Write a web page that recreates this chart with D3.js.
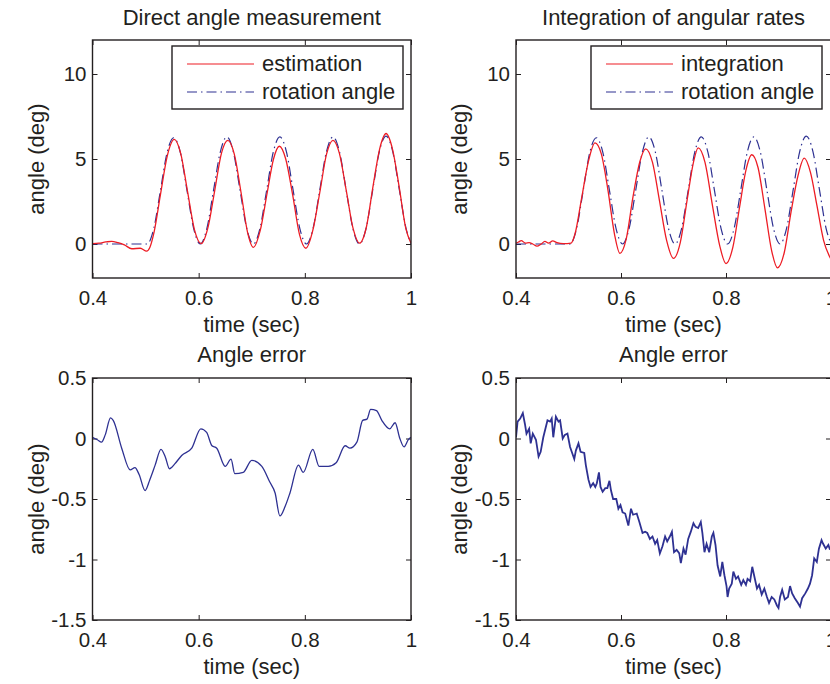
<!DOCTYPE html>
<html>
<head>
<meta charset="utf-8">
<script src="https://cdn.jsdelivr.net/npm/d3@7"></script>
<style>
  body { margin: 0; background: #fff; }
  svg { display: block; }
  text { font-family: "Liberation Sans", Arial, sans-serif; fill: #231f20; }
</style>
</head>
<body>
<div id="chart"></div>
<script>
// ---- data ----
const xTicks = [0.4, 0.6, 0.8, 1]
const xTickLabels = ['0.4', '0.6', '0.8', '1']
const angleTicks = [0, 5, 10]
const angleTickLabels = ['0', '5', '10']
const errorTicks = [-1.5, -1, -0.5, 0, 0.5]
const errorTickLabels = ['-1.5', '-1', '-0.5', '0', '0.5']

// rotation angle (reference, dash-dot), same in both top plots
const rotationTime = [0.400, 0.450, 0.490, 0.503, 0.5155, 0.528, 0.5405, 0.553, 0.5655, 0.578, 0.5905, 0.603,
  0.6155, 0.628, 0.6405, 0.653, 0.6655, 0.678, 0.6905, 0.703, 0.7155, 0.728, 0.7405, 0.753, 0.7655, 0.778, 0.7905, 0.803,
  0.8155, 0.828, 0.8405, 0.853, 0.8655, 0.878, 0.8905, 0.903, 0.9155, 0.928, 0.9405, 0.953, 0.9655, 0.978, 0.9905, 1.000]
const rotationAngle = [0, 0, 0, 0, 0.92, 3.15, 5.38, 6.25, 5.38, 3.15, 0.92, 0,
  0.92, 3.15, 5.38, 6.3, 5.4, 3.15, 0.92, 0, 0.92, 3.15, 5.4, 6.3, 5.4, 3.15, 0.92, 0,
  0.92, 3.15, 5.4, 6.3, 5.4, 3.15, 0.92, 0, 0.94, 3.2, 5.45, 6.35, 5.45, 3.2, 0.94, 0.02]

// direct angle estimation (red, top left)
const estimationTime = [0.400, 0.412, 0.425, 0.436, 0.448, 0.460, 0.474, 0.490, 0.502, 0.508, 0.516, 0.528, 0.541,
  0.554, 0.566, 0.579, 0.592, 0.605, 0.617, 0.630, 0.643, 0.655, 0.667, 0.680, 0.692, 0.703, 0.716, 0.729, 0.741,
  0.752, 0.764, 0.777, 0.790, 0.802, 0.815, 0.828, 0.841, 0.853, 0.865, 0.878, 0.891, 0.903, 0.916, 0.928, 0.941,
  0.953, 0.965, 0.978, 0.990, 1.000]
const estimationAngle = [0.02, 0.05, 0.12, 0.16, 0.08, -0.05, -0.28, -0.25, -0.42, -0.2, 0.7, 2.9, 5.2,
  6.15, 5.35, 3.1, 0.85, 0.02, 0.9, 3.1, 5.35, 6.1, 5.3, 3.0, 0.7, -0.2, 0.8, 3.0, 5.0,
  5.75, 5.0, 2.9, 0.55, -0.25, 0.8, 3.0, 5.3, 6.1, 5.35, 3.15, 0.9, 0.05, 1.0, 3.3, 5.6,
  6.5, 5.6, 3.3, 0.95, 0.05]

// integration of angular rates (red, top right)
const integrationTime = [0.400, 0.405, 0.410, 0.418, 0.425, 0.432, 0.440, 0.448, 0.455, 0.462, 0.470, 0.478, 0.490,
  0.505, 0.5125, 0.525, 0.5375, 0.5505, 0.5625, 0.575, 0.5875, 0.598, 0.610, 0.623, 0.636, 0.647, 0.660, 0.673,
  0.687, 0.700, 0.713, 0.726, 0.738, 0.747, 0.760, 0.774, 0.788, 0.800, 0.813, 0.826, 0.838, 0.849, 0.861, 0.874,
  0.887, 0.898, 0.911, 0.924, 0.937, 0.949, 0.961, 0.973, 0.986, 1.000]
const integrationAngle = [0.05, 0.12, 0.2, 0.05, 0.08, 0.0, -0.13, 0.0, 0.15, 0.05, 0.18, 0.08, 0.02,
  0.05, 0.6, 2.7, 4.8, 5.95, 5.3, 3.2, 0.6, -0.55, 0.3, 2.8, 4.85, 5.6, 4.8, 2.6,
  0.2, -0.85, 0.1, 2.6, 4.8, 5.65, 4.8, 2.3, -0.1, -1.15, -0.2, 2.2, 4.35, 5.25, 4.5, 2.1,
  -0.4, -1.4, -0.5, 1.9, 4.0, 5.05, 4.2, 2.3, 0.2, -0.9]

// angle error, direct measurement (bottom left)
const errorDirectTime = [0.400, 0.409, 0.417, 0.424, 0.434, 0.439, 0.455, 0.471, 0.480, 0.488, 0.499, 0.508, 0.518,
  0.529, 0.537, 0.545, 0.555, 0.568, 0.587, 0.604, 0.615, 0.625, 0.634, 0.650, 0.661, 0.668, 0.684, 0.700, 0.719,
  0.734, 0.744, 0.753, 0.763, 0.772, 0.788, 0.797, 0.815, 0.827, 0.844, 0.859, 0.876, 0.885, 0.898, 0.909, 0.917,
  0.924, 0.935, 0.945, 0.960, 0.970, 0.979, 0.987, 0.995, 1.000]
const errorDirect = [0.01, -0.01, -0.03, 0.03, 0.17, 0.15, -0.08, -0.26, -0.24, -0.30, -0.43, -0.34, -0.22,
  -0.09, -0.15, -0.25, -0.21, -0.14, -0.08, 0.08, 0.05, -0.06, -0.08, -0.23, -0.17, -0.29, -0.28, -0.18, -0.23,
  -0.36, -0.45, -0.64, -0.56, -0.45, -0.22, -0.28, -0.09, -0.23, -0.23, -0.20, -0.06, -0.08, -0.03, 0.15, 0.16,
  0.24, 0.23, 0.15, 0.08, 0.13, 0.00, -0.07, -0.01, 0.01]

// angle error, integration (bottom right)
const errorIntegTime = [0.400, 0.403, 0.408, 0.413, 0.417, 0.420, 0.425, 0.428, 0.432, 0.438, 0.443, 0.447, 0.452,
  0.460, 0.465, 0.468, 0.471, 0.476, 0.481, 0.484, 0.489, 0.493, 0.498, 0.503, 0.507, 0.511, 0.514, 0.519, 0.523,
  0.530, 0.533, 0.538, 0.542, 0.547, 0.551, 0.554, 0.558, 0.561, 0.565, 0.570, 0.574, 0.578, 0.581, 0.585, 0.591,
  0.595, 0.599, 0.603, 0.608, 0.614, 0.619, 0.623, 0.630, 0.635, 0.641, 0.646, 0.650, 0.655, 0.660, 0.665, 0.669,
  0.674, 0.679, 0.684, 0.688, 0.693, 0.697, 0.701, 0.706, 0.711, 0.714, 0.719, 0.723, 0.728, 0.733, 0.738, 0.742,
  0.747, 0.752, 0.755, 0.759, 0.763, 0.768, 0.773, 0.776, 0.780, 0.784, 0.789, 0.793, 0.797, 0.801, 0.803, 0.806,
  0.811, 0.814, 0.819, 0.823, 0.829, 0.833, 0.838, 0.841, 0.846, 0.850, 0.854, 0.859, 0.863, 0.868, 0.873, 0.878,
  0.882, 0.887, 0.892, 0.897, 0.900, 0.903, 0.907, 0.912, 0.918, 0.922, 0.926, 0.931, 0.937, 0.941, 0.945, 0.951,
  0.956, 0.960, 0.964, 0.968, 0.973, 0.977, 0.982, 0.985, 0.990, 0.995, 0.998]
const errorInteg = [0.01, 0.14, 0.165, 0.21, 0.12, 0.04, 0.08, -0.04, 0.04, -0.01, -0.15, -0.11, 0.01,
  0.15, 0.14, 0.165, 0.01, 0.18, 0.14, 0.15, 0.0, 0.03, 0.04, -0.07, -0.12, -0.17, -0.10, -0.04, -0.11,
  -0.12, -0.22, -0.34, -0.40, -0.37, -0.40, -0.37, -0.28, -0.40, -0.44, -0.41, -0.41, -0.35, -0.43, -0.50, -0.50,
  -0.58, -0.55, -0.61, -0.62, -0.72, -0.58, -0.63, -0.62, -0.69, -0.78, -0.77, -0.78, -0.83, -0.81, -0.87, -0.84,
  -0.95, -0.89, -0.81, -0.85, -0.81, -0.77, -0.94, -0.92, -0.95, -1.03, -0.91, -0.96, -0.83, -0.77, -0.70, -0.73,
  -0.74, -0.69, -0.78, -0.94, -0.87, -0.94, -0.81, -0.78, -0.88, -1.05, -1.14, -1.02, -1.13, -1.22, -1.31, -1.24,
  -1.20, -1.10, -1.16, -1.14, -1.21, -1.17, -1.21, -1.16, -1.18, -1.06, -1.14, -1.24, -1.21, -1.29, -1.24, -1.31,
  -1.36, -1.31, -1.33, -1.38, -1.40, -1.31, -1.25, -1.33, -1.31, -1.22, -1.28, -1.32, -1.36, -1.39, -1.32, -1.28,
  -1.24, -1.20, -1.13, -0.99, -1.02, -0.91, -0.84, -0.87, -0.91, -0.88, -0.92]

// ---- drawing ----
const width = 830, height = 684
const ink = '#231f20', red = '#ed1c24', blue = '#2e3192'
const fontSize = 22
const tickFontSize = 20.5
const fontFamily = '"Liberation Sans", Arial, sans-serif'

const svg = d3.select('#chart').append('svg')
    .attr('width', width)
    .attr('height', height)

const zip = (ts, vs) => ts.map((t, i) => [t, vs[i]])

let clipId = 0
function panel(box, yDomain, yTicks, yLabels, title, titleY) {
    const x = d3.scaleLinear().domain([0.4, 1]).range([box.left, box.right])
    const y = d3.scaleLinear().domain(yDomain).range([box.bottom, box.top])
    const g = svg.append('g')

    const axes = g.append('g')
    axes.append('g')
        .attr('transform', `translate(0,${box.bottom})`)
        .call(d3.axisBottom(x).tickValues(xTicks).tickFormat((d, i) => xTickLabels[i]).tickSize(-5).tickPadding(12))
    axes.append('g')
        .attr('transform', `translate(0,${box.top})`)
        .call(d3.axisTop(x).tickValues(xTicks).tickFormat('').tickSize(-5))
    axes.append('g')
        .attr('transform', `translate(${box.left},0)`)
        .call(d3.axisLeft(y).tickValues(yTicks).tickFormat((d, i) => yLabels[i]).tickSize(-5).tickPadding(6))
    axes.append('g')
        .attr('transform', `translate(${box.right},0)`)
        .call(d3.axisRight(y).tickValues(yTicks).tickFormat('').tickSize(-5))
    axes.selectAll('.domain').remove()
    axes.selectAll('.tick line').attr('stroke', ink).attr('stroke-width', 1)
    axes.selectAll('.tick text')
        .attr('fill', ink)
        .attr('font-size', tickFontSize)
        .attr('font-family', fontFamily)

    const id = 'clip' + (clipId++)
    svg.append('clipPath').attr('id', id)
        .append('rect')
        .attr('x', box.left).attr('y', box.top)
        .attr('width', box.right - box.left).attr('height', box.bottom - box.top)
    const plot = g.append('g').attr('clip-path', `url(#${id})`)

    g.append('text')
        .attr('x', (box.left + box.right) / 2)
        .attr('y', titleY)
        .attr('text-anchor', 'middle')
        .attr('font-size', fontSize)
        .text(title)

    g.append('text')
        .attr('x', (box.left + box.right) / 2)
        .attr('y', box.bottom + 54)
        .attr('text-anchor', 'middle')
        .attr('font-size', fontSize)
        .text('time (sec)')

    g.append('text')
        .attr('transform', `translate(${box.left - 49},${(box.top + box.bottom) / 2}) rotate(-90)`)
        .attr('text-anchor', 'middle')
        .attr('font-size', fontSize)
        .text('angle (deg)')

    return { x, y, g, plot, box }
}

function frame(p) {
    p.g.append('rect')
        .attr('x', p.box.left).attr('y', p.box.top)
        .attr('width', p.box.right - p.box.left).attr('height', p.box.bottom - p.box.top)
        .attr('fill', 'none')
        .attr('stroke', ink)
        .attr('stroke-width', 1.4)
}

function drawLine(p, data, color, w, dash, curve) {
    const line = d3.line()
        .x(d => p.x(d[0]))
        .y(d => p.y(d[1]))
        .curve(curve)
    p.plot.append('path')
        .attr('d', line(data))
        .attr('fill', 'none')
        .attr('stroke', color)
        .attr('stroke-width', w)
        .attr('stroke-dasharray', dash)
}

function legend(p, lx, ly, lw, lh, names) {
    const lg = p.g.append('g')
    lg.append('rect')
        .attr('x', lx).attr('y', ly).attr('width', lw).attr('height', lh)
        .attr('fill', '#fff').attr('stroke', ink).attr('stroke-width', 1.4)
    const styles = [[red, 1.2, null], [blue, 1.2, '10,4,1.5,4']]
    names.forEach((name, i) => {
        const yy = ly + 18 + i * 28
        lg.append('line')
            .attr('x1', lx + 15).attr('x2', lx + 82)
            .attr('y1', yy).attr('y2', yy)
            .attr('stroke', styles[i][0])
            .attr('stroke-width', styles[i][1])
            .attr('stroke-dasharray', styles[i][2])
        lg.append('text')
            .attr('x', lx + 90).attr('y', yy + 7)
            .attr('font-size', fontSize)
            .text(name)
    })
}

const topLeft = panel({ left: 92.5, right: 411, top: 40, bottom: 278 }, [-2, 12], angleTicks, angleTickLabels,
    'Direct angle measurement', 25)
drawLine(topLeft, zip(rotationTime, rotationAngle), blue, 1.2, '10,4,1.5,4', d3.curveMonotoneX)
drawLine(topLeft, zip(estimationTime, estimationAngle), red, 1.3, null, d3.curveMonotoneX)
frame(topLeft)
legend(topLeft, 172, 46, 231, 63, ['estimation', 'rotation angle'])

const topRight = panel({ left: 516, right: 831, top: 40, bottom: 278 }, [-2, 12], angleTicks, angleTickLabels,
    'Integration of angular rates', 25)
drawLine(topRight, zip(rotationTime, rotationAngle), blue, 1.2, '10,4,1.5,4', d3.curveMonotoneX)
drawLine(topRight, zip(integrationTime, integrationAngle), red, 1.3, null, d3.curveMonotoneX)
frame(topRight)
legend(topRight, 591, 46, 231, 63, ['integration', 'rotation angle'])

const botLeft = panel({ left: 92.5, right: 411, top: 378, bottom: 620 }, [-1.5, 0.5], errorTicks, errorTickLabels,
    'Angle error', 362)
drawLine(botLeft, zip(errorDirectTime, errorDirect), blue, 1.3, null, d3.curveMonotoneX)
frame(botLeft)

const botRight = panel({ left: 516, right: 831, top: 378, bottom: 620 }, [-1.5, 0.5], errorTicks, errorTickLabels,
    'Angle error', 362)
drawLine(botRight, zip(errorIntegTime, errorInteg), blue, 1.8, null, d3.curveLinear)
frame(botRight)
</script>
</body>
</html>
